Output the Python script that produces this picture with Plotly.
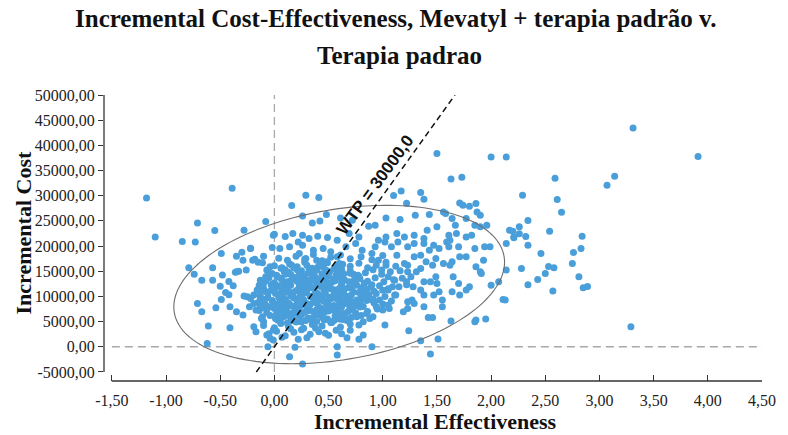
import numpy as np
import plotly.graph_objects as go

# ---------------- data (incremental effectiveness, incremental cost) ----------------
left_pts = [
    (-1.18, 29560), (-1.10, 21820), (-0.39, 31490), (-0.71, 24600), (-0.85, 20910),
    (-0.73, 20830), (-0.55, 23090), (-0.28, 23150), (-0.08, 24880), (-0.49, 18530),
    (-0.79, 15670), (-0.74, 14420), (-0.57, 15670), (-0.67, 13230), (-0.57, 13230),
    (-0.48, 14230), (-0.50, 12040), (-0.38, 12100), (-0.35, 18000), (-0.30, 18790),
    (-0.22, 19580), (-0.29, 17200), (-0.35, 14880), (-0.33, 15020), (-0.26, 15220),
    (-0.20, 17200), (-0.18, 17400), (-0.15, 16800), (-0.10, 18000), (-0.11, 16670),
    (-0.02, 19720), (-0.01, 22160), (-0.42, 10320), (-0.49, 9400), (-0.71, 8610),
    (-0.67, 6940), (-0.54, 7740), (-0.41, 7940), (-0.61, 4110), (-0.62, 670),
    (-0.41, 3770), (-0.35, 6940), (-0.29, 6290), (-0.28, 10060), (-0.25, 9920),
    (-0.22, 9600), (-0.19, 10260), (-0.16, 11250), (-0.14, 12240), (-0.13, 13230),
    (-0.10, 12580), (-0.08, 13890), (-0.07, 15220), (-0.04, 15870), (-0.02, 14560),
    (-0.19, 8610), (-0.23, 7940), (-0.17, 7280), (-0.13, 7940), (-0.11, 5950),
    (-0.10, 4960), (-0.19, 3970), (-0.17, 2980), (-0.07, 2320), (-0.04, 1670),
    (-0.01, 3310), (0.01, 5630), (-0.22, 19520), (-0.06, 0), (-0.45, 10790),
    (-0.42, 12970), (-0.36, 14820),
]

upper_pts = [
    (0.29, 30100), (0.41, 29640), (0.16, 28050), (0.26, 25990), (0.35, 24600),
    (0.42, 25000), (0.48, 26270), (0.00, 22360), (0.10, 21900), (0.17, 22500),
    (0.26, 22160), (0.32, 21500), (0.40, 21960), (0.49, 21700), (0.58, 21170),
    (0.22, 20830), (0.05, 19520), (0.14, 19840), (0.26, 20180), (0.36, 19190),
    (0.45, 19520), (0.52, 18850), (0.23, 18530), (0.29, 17540), (0.39, 17200),
    (0.48, 16860), (0.58, 17860), (0.60, 16550),
    (1.50, 38370), (2.00, 37700), (2.14, 37700), (1.63, 33330), (1.73, 33670),
    (1.10, 30040), (1.17, 30950), (1.35, 30630), (1.38, 29300), (1.22, 28510),
    (1.30, 26130), (1.43, 26270), (1.71, 28570), (1.74, 28110), (1.80, 27910),
    (1.86, 28450), (1.87, 26780), (1.90, 26130), (1.56, 26780), (1.64, 25470),
    (1.67, 24140), (1.77, 25470), (1.85, 24140), (1.90, 23810), (1.96, 24140),
    (2.17, 23150), (2.26, 23810), (2.21, 21820), (0.61, 25590), (0.72, 25140),
    (0.87, 23950), (0.93, 24140), (1.03, 25590), (1.16, 25280), (1.41, 23150),
    (1.50, 23810), (1.61, 22160), (1.62, 21170), (1.68, 22500), (1.77, 21820),
    (1.82, 22160), (1.38, 21500), (1.29, 22160), (1.20, 21820), (1.13, 22500),
    (1.03, 21820), (0.96, 21170), (0.78, 21820), (0.69, 22500), (1.58, 26470),
    (2.14, 20510),
]

middle_pts = [
    (2.14, 15220), (2.07, 12900), (2.11, 9400), (2.13, 9270), (2.00, 12240),
    (1.95, 5500), (1.86, 5300), (1.85, 4960), (1.63, 5100), (1.51, 1530),
    (1.35, 1190), (1.44, -1450), (1.24, 3180), (1.42, 5830), (1.46, 5830),
    (1.19, 6940), (1.23, 7610), (1.29, 8610), (1.27, 9270), (1.38, 7940),
    (1.52, 10910), (1.47, 10260), (1.55, 7940), (1.55, 9270), (1.64, 10910),
    (1.71, 10260), (1.77, 11250), (1.80, 11900), (1.70, 12580), (1.65, 13890),
    (1.62, 16210), (1.64, 16860), (1.71, 17860), (1.77, 17860), (1.85, 19520),
    (1.94, 19840), (1.99, 19840), (1.86, 15870), (1.90, 14880), (1.91, 14560),
    (1.93, 17200), (1.56, 16550), (1.49, 13890), (1.44, 12900), (1.38, 12900),
    (1.35, 11250), (1.38, 10260), (1.50, 12580), (1.26, 13890), (1.28, 11900),
    (1.22, 12900), (1.23, 14880), (1.23, 16210), (1.20, 16550), (1.31, 14880),
    (1.35, 15550), (1.40, 16860), (1.46, 16210), (1.49, 17540), (1.29, 17860),
    (1.35, 18190), (1.43, 19190), (1.52, 19520), (1.61, 19840), (1.70, 19840),
    (1.59, 20830), (1.13, 18190), (1.08, 19840), (1.14, 20830), (1.02, 20830),
    (1.23, 19840), (1.29, 20510), (1.38, 20510), (1.47, 20180), (1.11, 13230),
    (1.09, 11900), (1.11, 10260), (1.05, 8270), (1.06, 7610), (1.00, 7280),
    (1.05, 11250), (1.23, 8930), (1.02, 4310), (0.82, 4960), (0.76, 5950),
    (0.91, 5950), (0.85, 6630), (0.94, 7940), (0.97, 9270), (0.90, 9270),
    (1.05, 13890), (0.99, 15220), (1.03, 16210), (0.96, 17200), (0.90, 18530),
    (0.93, 19840), (0.81, 19190), (0.75, 20510), (0.66, 19840),
]

right_pts = [
    (3.31, 43450), (3.91, 37770), (2.59, 33470), (3.14, 33870), (3.07, 32080),
    (2.29, 30100), (2.61, 29240), (2.65, 26720), (2.34, 25080), (2.54, 22950),
    (2.20, 22950), (2.21, 21630), (2.26, 22420), (2.32, 21900), (2.34, 20180),
    (2.84, 21960), (2.83, 19520), (2.76, 18730), (2.46, 18530), (2.75, 16550),
    (2.28, 15550), (2.53, 15950), (2.58, 15670), (2.50, 14560), (2.81, 13890),
    (2.43, 13370), (2.34, 12300), (2.85, 11710), (2.89, 11980), (2.57, 11050),
    (3.29, 3970),
]

lower_pts = [
    (0.19, -120), (0.14, -2000), (0.26, -3430), (0.58, 0), (0.58, -1650),
    (0.67, 1790), (0.78, 1470), (0.82, 2320), (0.90, 0), (-0.01, 1330),
]

core_pts_a = [
    (-0.05, 2600), (0.02, 3100), (0.10, 2200), (0.18, 2900), (0.25, 3400), (0.33, 2500),
    (0.41, 3000), (0.50, 2300), (0.57, 3300),
    (-0.10, 4200), (0.00, 3800), (0.06, 4600), (0.13, 4000), (0.20, 4900), (0.27, 3700),
    (0.35, 4400), (0.44, 4100), (0.52, 4800), (0.61, 3900), (0.70, 4500), (0.78, 4300),
    (-0.12, 5600), (-0.04, 6200), (0.03, 5300), (0.09, 6000), (0.15, 5700), (0.22, 6400),
    (0.29, 5200), (0.36, 5900), (0.42, 6300), (0.49, 5500), (0.56, 6100), (0.63, 5400),
    (0.71, 5800), (0.80, 6200), (0.88, 5600),
    (-0.14, 7200), (-0.07, 6800), (0.00, 7600), (0.05, 7000), (0.11, 7900), (0.17, 6700),
    (0.23, 7400), (0.30, 7800), (0.37, 6900), (0.43, 7500), (0.50, 7100), (0.57, 7700),
    (0.64, 6600), (0.72, 7300), (0.79, 7900), (0.86, 7000), (0.95, 7500),
    (-0.15, 8800), (-0.08, 8300), (-0.02, 9200), (0.04, 8600), (0.10, 9400), (0.16, 8100),
    (0.21, 8900), (0.27, 9300), (0.33, 8400), (0.39, 8700), (0.45, 9100), (0.51, 8200),
    (0.58, 9500), (0.65, 8600), (0.71, 9000), (0.78, 8300), (0.85, 9200), (0.92, 8700),
    (1.00, 8500), (1.08, 9100),
    (-0.13, 10200), (-0.06, 9800), (0.01, 10600), (0.07, 10000), (0.12, 10900),
    (0.18, 9700), (0.24, 10400), (0.30, 10800), (0.35, 9900), (0.41, 10300),
    (0.47, 10700), (0.53, 9600), (0.60, 10500), (0.66, 10100), (0.73, 10900),
    (0.80, 9800), (0.87, 10400), (0.94, 10600), (1.02, 10000), (1.12, 10300),
    (-0.10, 11600), (-0.03, 11200), (0.03, 12100), (0.09, 11400), (0.14, 12400),
    (0.20, 11100), (0.26, 11800), (0.32, 12300), (0.37, 11500), (0.43, 11900),
    (0.49, 12200), (0.55, 11300), (0.62, 12000), (0.68, 11700), (0.75, 12400),
    (0.82, 11200), (0.89, 11800), (0.97, 12100), (1.05, 11500), (1.15, 11900),
    (1.22, 12300),
    (-0.08, 13100), (0.00, 12700), (0.06, 13600), (0.12, 12900), (0.18, 13800),
    (0.24, 12600), (0.29, 13300), (0.35, 13700), (0.41, 13000), (0.47, 13400),
    (0.53, 12800), (0.59, 13900), (0.65, 13200), (0.72, 12700), (0.79, 13500),
    (0.86, 13000), (0.93, 13700), (1.01, 12900), (1.10, 13300), (1.18, 13600),
    (-0.05, 14600), (0.02, 14200), (0.09, 15000), (0.15, 14400), (0.21, 15300),
    (0.27, 14100), (0.33, 14800), (0.39, 15200), (0.45, 14300), (0.51, 14900),
    (0.57, 15400), (0.64, 14500), (0.70, 15100), (0.77, 14200), (0.84, 14700),
    (0.91, 15300), (0.99, 14400), (1.07, 14900), (1.16, 15100),
    (0.00, 16100), (0.07, 15700), (0.14, 16500), (0.21, 15900), (0.28, 16800),
    (0.35, 15600), (0.42, 16300), (0.49, 16700), (0.56, 15800), (0.63, 16400),
    (0.70, 16000), (0.78, 16600), (0.86, 15700), (0.94, 16200), (1.03, 16800),
    (1.12, 16000),
    (0.04, 17600), (0.12, 17200), (0.20, 18000), (0.28, 17400), (0.36, 18300),
    (0.44, 17100), (0.52, 17800), (0.61, 18200), (0.70, 17500), (0.80, 17900),
    (0.90, 17300), (1.00, 18100),
]

core_pts_b = [
    (0.05, 5100), (0.12, 4700), (0.18, 5400), (0.25, 4900), (0.31, 5700), (0.39, 5000),
    (0.46, 5300), (0.53, 4800), (0.60, 5500), (0.67, 5200),
    (0.02, 6500), (0.08, 7100), (0.14, 6300), (0.20, 6900), (0.26, 6600), (0.33, 7200),
    (0.40, 6400), (0.46, 6800), (0.54, 7300), (0.61, 6500), (0.68, 7000), (0.75, 6700),
    (-0.04, 7900), (0.02, 8400), (0.08, 8100), (0.13, 8700), (0.19, 7700), (0.25, 8300),
    (0.31, 8000), (0.36, 8900), (0.42, 7800), (0.48, 8500), (0.55, 8200), (0.62, 7900),
    (0.68, 8700), (0.75, 8100), (0.82, 8000),
    (-0.09, 9400), (-0.02, 9100), (0.04, 9800), (0.10, 9300), (0.15, 10100), (0.21, 9500),
    (0.27, 9200), (0.33, 10000), (0.38, 9600), (0.44, 9300), (0.50, 9900), (0.56, 10200),
    (0.63, 9400), (0.69, 9700), (0.76, 9300), (0.84, 9900), (0.91, 9500),
    (-0.07, 10900), (0.00, 11300), (0.06, 10700), (0.11, 11600), (0.16, 10800),
    (0.22, 11400), (0.28, 11000), (0.34, 11700), (0.40, 10600), (0.46, 11200),
    (0.52, 11500), (0.58, 10900), (0.64, 11100), (0.71, 11600), (0.78, 10800),
    (0.85, 11400), (0.92, 11000), (1.00, 11200),
    (-0.02, 12400), (0.04, 12000), (0.09, 12700), (0.15, 12200), (0.21, 13000),
    (0.27, 12500), (0.32, 12100), (0.38, 12800), (0.44, 12300), (0.50, 12600),
    (0.56, 13100), (0.62, 12400), (0.69, 12900), (0.76, 12200), (0.83, 12600),
    (0.90, 12300),
    (0.03, 13900), (0.10, 14400), (0.17, 13700), (0.24, 14100), (0.31, 14600),
    (0.38, 13800), (0.44, 14500), (0.50, 14000), (0.57, 14300), (0.63, 13900),
    (0.70, 14600), (0.78, 14000),
    (0.10, 15300), (0.18, 15700), (0.25, 15100), (0.32, 15500), (0.40, 15800),
    (0.48, 15200), (0.55, 15600), (0.62, 15400),
]

core_pts_c = [
    (0.07, 5800), (0.16, 5200), (0.24, 6000), (0.34, 5400), (0.44, 5800), (0.55, 5200),
    (0.65, 6000),
    (0.04, 7300), (0.12, 6900), (0.22, 7600), (0.29, 7000), (0.39, 7400), (0.48, 7700),
    (0.59, 7100), (0.70, 7600),
    (0.06, 9000), (0.14, 8400), (0.23, 8700), (0.30, 8600), (0.40, 9200), (0.49, 8800),
    (0.60, 8500), (0.69, 8300), (0.79, 8800),
    (0.08, 10400), (0.17, 10200), (0.27, 10600), (0.37, 10400), (0.44, 10000),
    (0.55, 10500), (0.63, 10800), (0.71, 10300), (0.83, 10200),
    (0.06, 11800), (0.13, 12000), (0.23, 12300), (0.30, 11600), (0.40, 12200),
    (0.51, 11800), (0.60, 11600), (0.72, 12100), (0.80, 11700),
    (0.07, 13300), (0.15, 13100), (0.26, 13500), (0.33, 13200), (0.44, 13600),
    (0.55, 13500), (0.62, 13000), (0.74, 13400),
    (0.13, 14800), (0.23, 14600), (0.36, 14300), (0.47, 14700), (0.60, 14800),
    (0.73, 14400),
    (0.06, 15600), (0.16, 16200), (0.30, 16200), (0.45, 15900), (0.58, 16300),
    (-0.12, 9000), (-0.06, 10600), (-0.11, 11100), (-0.03, 12300), (-0.09, 7700),
    (-0.02, 8000), (-0.05, 13700), (-0.13, 9800),
    (0.07, 1900), (0.15, 3600), (0.30, 1800), (0.38, 3700), (0.47, 2700), (0.22, 1500),
    (0.62, 2600), (0.70, 3300),
]

x_tick_values = [-1.5, -1.0, -0.5, 0.0, 0.5, 1.0, 1.5, 2.0, 2.5, 3.0, 3.5, 4.0, 4.5]
x_tick_labels = ["-1,50", "-1,00", "-0,50", "0,00", "0,50", "1,00", "1,50",
                 "2,00", "2,50", "3,00", "3,50", "4,00", "4,50"]
y_tick_values = [-5000, 0, 5000, 10000, 15000, 20000, 25000, 30000, 35000,
                 40000, 45000, 50000]
y_tick_labels = ["-5000,00", "0,00", "5000,00", "10000,00", "15000,00", "20000,00",
                 "25000,00", "30000,00", "35000,00", "40000,00", "45000,00", "50000,00"]

wtp = 30000
# confidence ellipse: centre and conjugate semi-axis vectors (data units)
ell_center = (0.598, 12360)
ell_u = (1.522, 5537)
ell_v = (-0.1117, 14719)

# ---------------- figure ----------------
all_pts = (core_pts_a + core_pts_b + core_pts_c + left_pts + upper_pts + middle_pts
           + right_pts + lower_pts)
xs = [p[0] for p in all_pts]
ys = [p[1] for p in all_pts]

XMIN, XMAX = -1.5725, 4.5
YMIN, YMAX = -6800, 50000

fig = go.Figure()
fig.add_trace(go.Scatter(
    x=xs, y=ys, mode="markers",
    marker=dict(size=7, color="#4A9FDA", line=dict(width=0)),
    hoverinfo="skip", showlegend=False,
))

t = np.linspace(0, 2 * np.pi, 160)
ex = ell_center[0] + ell_u[0] * np.cos(t) + ell_v[0] * np.sin(t)
ey = ell_center[1] + ell_u[1] * np.cos(t) + ell_v[1] * np.sin(t)
path = "M " + " L ".join(f"{a:.4f},{b:.1f}" for a, b in zip(ex, ey)) + " Z"

shapes = [
    dict(type="line", xref="x", yref="y", x0=0, x1=0, y0=-5000, y1=50000,
         line=dict(color="#A8A8A8", width=1.3, dash="8px,5px"), layer="below"),
    dict(type="line", xref="x", yref="y", x0=-1.5, x1=4.5, y0=0, y1=0,
         line=dict(color="#A8A8A8", width=1.3, dash="8px,5px"), layer="below"),
    dict(type="path", xref="x", yref="y", path=path,
         line=dict(color="#6E6E6E", width=1.1), fillcolor="rgba(0,0,0,0)"),
    dict(type="line", xref="x", yref="y", x0=-5000 / wtp, y0=-5000,
         x1=50000 / wtp, y1=50000,
         line=dict(color="#111111", width=1.5, dash="6px,4px")),
    dict(type="line", xref="paper", yref="y", x0=0, x1=0, y0=-5000, y1=50000,
         line=dict(color="#333333", width=1.3)),
    dict(type="line", xref="x", yref="paper", x0=-1.5, x1=4.5, y0=0, y1=0,
         line=dict(color="#333333", width=1.3)),
]

W, H = 788, 435
L, R, T, B = 104, 14, 95, 54
pw, ph = W - L - R, H - T - B


def px_to_paper(px, py):
    return (px - L) / pw, (H - B - py) / ph


def text_ann(text, px, py, size, family="Liberation Serif", angle=0):
    x, y = px_to_paper(px, py)
    return dict(text=text, x=x, y=y, xref="paper", yref="paper", showarrow=False,
                xanchor="center", yanchor="middle", textangle=angle,
                font=dict(family=family, size=size, color="#111"))


ann = [
    text_ann("<b>Incremental Cost-Effectiveness, Mevatyl + terapia padrão v.</b>", 401, 19, 25),
    text_ann("<b>Terapia padrao</b>", 405, 55, 25),
    text_ann("<b>Incremental Effectiveness</b>", 442, 421, 22),
    text_ann("<b>Incremental Cost</b>", 22, 233, 22, angle=-90),
    dict(text="<b>WTP = 30000,0</b>", x=0.925, y=32080, xref="x", yref="y",
         showarrow=False, xanchor="center", yanchor="middle", textangle=-53.9,
         font=dict(family="Liberation Sans", size=17, color="#111")),
]

fig.update_layout(
    width=W, height=H, margin=dict(l=L, r=R, t=T, b=B),
    paper_bgcolor="white", plot_bgcolor="white",
    shapes=shapes, annotations=ann, showlegend=False,
    xaxis=dict(range=[XMIN, XMAX], showgrid=False, zeroline=False, showline=False,
               tickmode="array", tickvals=x_tick_values, ticktext=x_tick_labels,
               ticks="inside", ticklen=6, tickcolor="#333", tickwidth=1,
               ticklabelstandoff=8,
               tickfont=dict(family="Liberation Serif", size=16, color="#222")),
    yaxis=dict(range=[YMIN, YMAX], showgrid=False, zeroline=False, showline=False,
               tickmode="array", tickvals=y_tick_values, ticktext=y_tick_labels,
               ticks="outside", ticklen=5, tickcolor="#333", tickwidth=1,
               tickfont=dict(family="Liberation Serif", size=16, color="#222")),
)

fig.write_html("out.html")
